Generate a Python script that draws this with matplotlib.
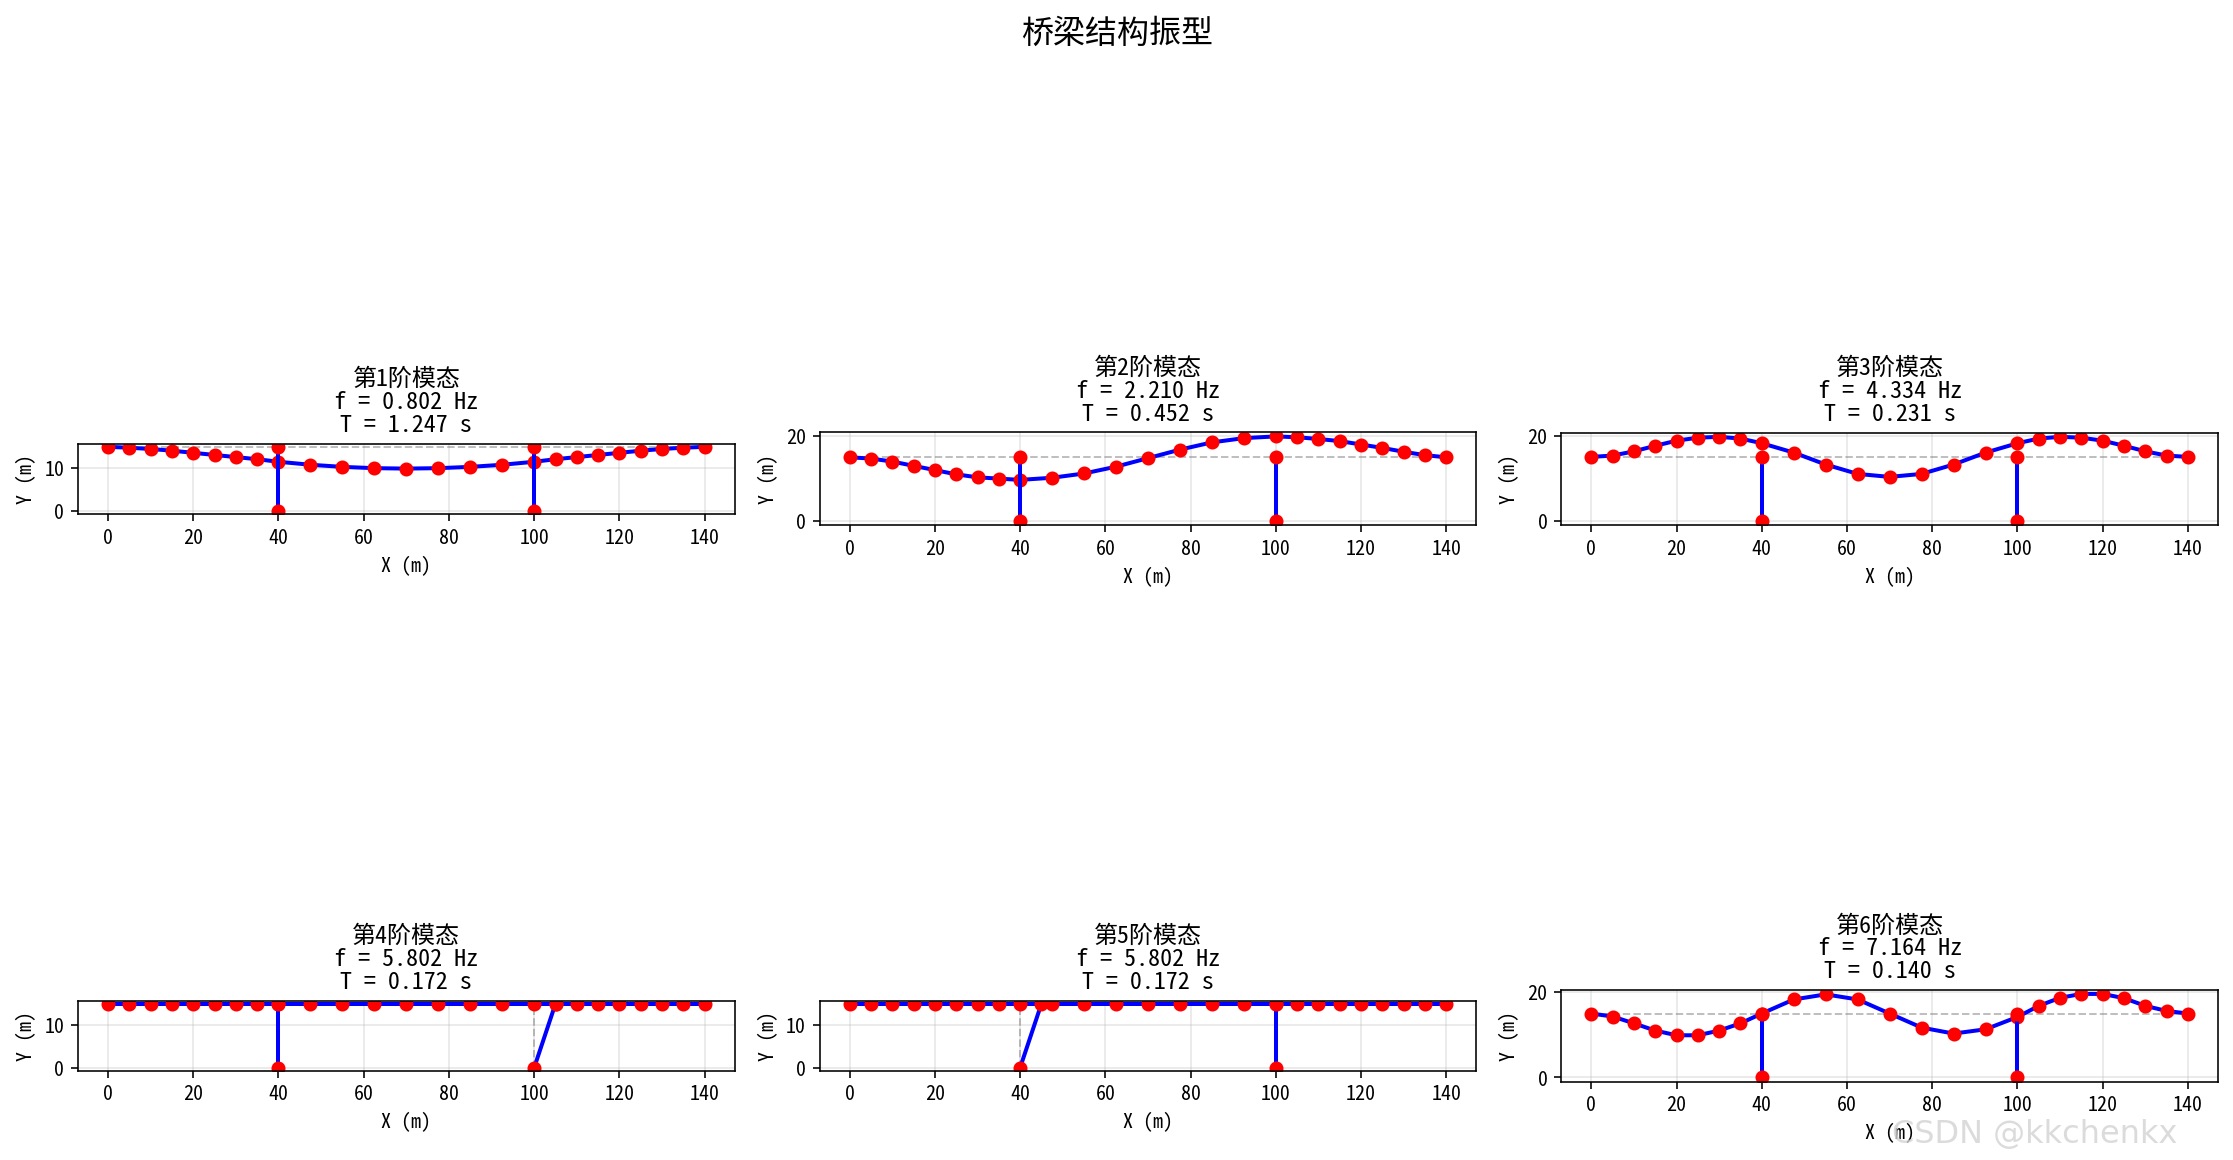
import numpy as np
import matplotlib.pyplot as plt

plt.rcParams['font.family'] = ['Noto Sans Mono CJK SC', 'DejaVu Sans Mono', 'Noto Sans CJK SC']
plt.rcParams['axes.unicode_minus'] = False

# deck node x coordinates
deck_x = [0, 5, 10, 15, 20, 25, 30, 35, 40, 47.5, 55, 62.5, 70, 77.5, 85, 92.5,
          100, 105, 110, 115, 120, 125, 130, 135, 140]
pier_x = [40, 100]
freqs = [0.802, 2.210, 4.334, 5.802, 5.802, 7.164]

mode1_y = [15, 14.8, 14.5, 14.1, 13.6, 13.1, 12.6, 12.1, 11.5, 10.8, 10.3, 10.0, 9.9,
           10.0, 10.3, 10.8, 11.5, 12.1, 12.6, 13.1, 13.6, 14.1, 14.5, 14.8, 15]
mode2_y = [15, 14.7, 14.0, 13.0, 12.0, 11.0, 10.3, 10.0, 9.7, 10.2, 11.2, 12.8, 14.8,
           16.8, 18.5, 19.5, 19.9, 19.7, 19.3, 18.8, 18.0, 17.2, 16.3, 15.5, 15.0]
mode3_y = [15, 15.3, 16.3, 17.6, 18.8, 19.5, 19.7, 19.3, 18.2, 16.0, 13.2, 11.0, 10.3,
           11.0, 13.2, 16.0, 18.2, 19.3, 19.7, 19.5, 18.8, 17.6, 16.3, 15.3, 15]
mode4_y = [15] * 25
mode5_y = [15] * 25
mode6_y = [15, 14.3, 12.7, 11.0, 9.9, 9.9, 11.0, 12.7, 15.0, 18.3, 19.5, 18.3, 15.0,
           11.7, 10.3, 11.3, 14.2, 16.8, 18.7, 19.6, 19.6, 18.6, 16.8, 15.6, 15]
mode_ys = [mode1_y, mode2_y, mode3_y, mode4_y, mode5_y, mode6_y]
# deformed pier top x per mode (left pier, right pier)
pier_top_x = [[40, 100], [40, 100], [40, 100], [40, 105], [45, 100], [40, 100]]

fig, axes = plt.subplots(2, 3, figsize=(15.51, 8.06), dpi=144)
for i, ax in enumerate(axes.flat):
    # undeformed shape
    ax.plot([0, 140], [15, 15], '--', color='gray', alpha=0.5, lw=1)
    for px in pier_x:
        ax.plot([px, px], [0, 15], '--', color='gray', alpha=0.5, lw=1)
    # deformed shape
    ax.plot(deck_x, mode_ys[i], 'b-', lw=2)
    ax.plot(deck_x, mode_ys[i], 'ro', ms=6)
    for px, tx in zip(pier_x, pier_top_x[i]):
        ax.plot([px, tx], [0, 15], 'b-', lw=2)
        ax.plot([px, tx], [0, 15], 'ro', ms=6)
    ax.set_aspect('equal')
    ax.grid(True, alpha=0.3)
    ax.set_xlabel('X (m)')
    ax.set_ylabel('Y (m)')
    ax.set_title(f'第{i+1}阶模态\nf = {freqs[i]:.3f} Hz\nT = {1/freqs[i]:.3f} s',
                 fontsize=12, linespacing=1.0)

fig.suptitle('桥梁结构振型', fontsize=16, y=0.985)
plt.subplots_adjust(left=0.035, right=0.993, bottom=0.0, top=0.694, wspace=0.13, hspace=1.24)
fig.text(0.975, 0.015, 'CSDN @kkchenkx', fontsize=16, color='lightgray',
         ha='right', alpha=0.8, family='DejaVu Sans')
plt.savefig('out.png')
